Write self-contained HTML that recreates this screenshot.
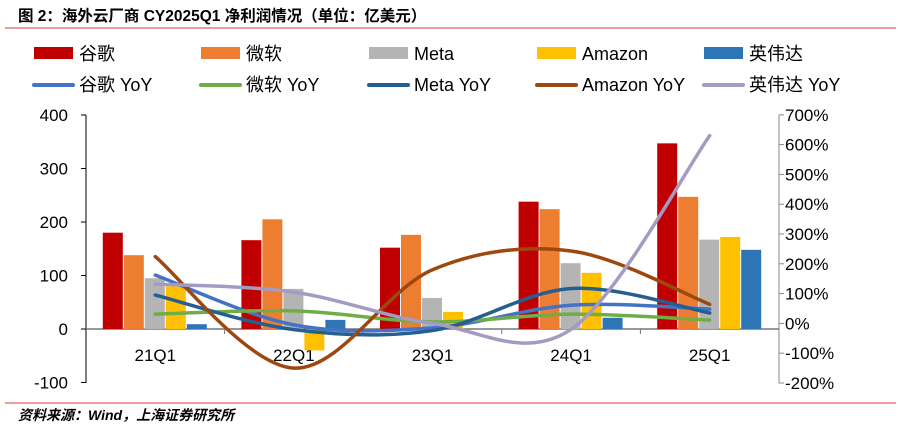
<!DOCTYPE html>
<html><head><meta charset="utf-8"><style>
body{margin:0;background:#fff;}
svg text{font-family:"Liberation Sans","Noto Sans CJK SC",sans-serif;}
</style></head><body>
<svg width="901" height="431" xmlns="http://www.w3.org/2000/svg">
<text x="18" y="21" font-size="15.5" font-weight="bold" fill="#000">图 2：海外云厂商 CY2025Q1 净利润情况（单位：亿美元）</text>
<line x1="5" y1="28" x2="896" y2="28" stroke="#e06060" stroke-width="1.2"/>
<g id="legend"></g>
<g id="axes"></g>
<g id="bars"></g>
<g id="lines"></g>
<line x1="5" y1="403" x2="896" y2="403" stroke="#e06060" stroke-width="1.2"/>
<text x="18" y="420" font-size="14" font-style="italic" font-weight="bold" fill="#000">资料来源：Wind，上海证券研究所</text>
</svg>
<script>
const categories=["21Q1","22Q1","23Q1","24Q1","25Q1"];
const barNames=["谷歌","微软","Meta","Amazon","英伟达"];
const google=[180,166,152,238,347];
const microsoft=[138,205,176,224,247];
const meta=[95,75,58,123,167];
const amazon=[80,-40,32,105,172];
const nvidia=[9,17,0,21,148];
const lineNames=["谷歌 YoY","微软 YoY","Meta YoY","Amazon YoY","英伟达 YoY"];
const googleYoY=[162,-5,-15,61,48];
const microsoftYoY=[31,42,5,31,11];
const metaYoY=[95,-21,-24,117,35];
const amazonYoY=[224,-150,180,243,64];
const nvidiaYoY=[132,105,0,-20,630];
const leftTicks=[400,300,200,100,0,-100];
const rightTicks=[700,600,500,400,300,200,100,0,-100,-200];

const NS="http://www.w3.org/2000/svg";
const barColors=["#c00000","#ed7d31","#b4b4b4","#ffc000","#2e75b6"];
const lineColors=["#4472c4","#70ad47","#255e91","#9e480e","#a49bc2"];
const X0=86,X1=779,yL=v=>329-v*0.535,yR=v=>323.4-v*0.298;
const cw=(X1-X0)/categories.length, cx=i=>X0+cw*(i+0.5);
function mk(t,a,p){const e=document.createElementNS(NS,t);for(const k in a)e.setAttribute(k,a[k]);p.appendChild(e);return e;}
const axes=document.getElementById('axes');
let e=mk('line',{x1:X0,y1:115,x2:X0,y2:383,stroke:'#000'},axes);


e=mk('line',{x1:X1,y1:115,x2:X1,y2:383,stroke:'#888'},axes);


e=mk('line',{x1:X0,y1:yL(0),x2:X1,y2:yL(0),stroke:'#777','stroke-width':1.5},axes);


leftTicks.forEach(v=>{
 mk('line',{x1:X0-5,y1:yL(v),x2:X0,y2:yL(v),stroke:'#000'},axes);
 e=mk('text',{x:68,y:yL(v)+6,'font-size':17,'text-anchor':'end'},axes);e.textContent=v;
 
 
});
rightTicks.forEach(v=>{
 mk('line',{x1:X1,y1:yR(v),x2:X1+5,y2:yR(v),stroke:'#888'},axes);
 e=mk('text',{x:785,y:yR(v)+6,'font-size':17},axes);e.textContent=v+'%';
 
 
});
categories.forEach((c,i)=>{
 if(i>0)mk('line',{x1:X0+cw*i,y1:yL(0),x2:X0+cw*i,y2:yL(0)+5,stroke:'#777'},axes);
 e=mk('text',{x:cx(i),y:361,'font-size':17,'text-anchor':'middle'},axes);e.textContent=c;
 
 
});
const barSeries=[google,microsoft,meta,amazon,nvidia];
const bars=document.getElementById('bars');const bw=21;
barSeries.forEach((s,j)=>s.forEach((v,i)=>{
 const x=cx(i)-bw*2.5+j*bw;const y=Math.min(yL(v),yL(0));
 e=mk('rect',{x:x,y:y,width:bw-1,height:Math.abs(yL(v)-yL(0)),fill:barColors[j]},bars);
 
 
}));
const lineSeries=[googleYoY,microsoftYoY,metaYoY,amazonYoY,nvidiaYoY];
const lines=document.getElementById('lines');
lineSeries.forEach((s,j)=>{
 const p=s.map((v,i)=>[cx(i),yR(v)]);
 let d='M'+p[0][0]+','+p[0][1];
 for(let i=0;i<p.length-1;i++){
  const p0=p[Math.max(i-1,0)],p1=p[i],p2=p[i+1],p3=p[Math.min(i+2,p.length-1)];
  const t=6;
  d+=' C'+(p1[0]+(p2[0]-p0[0])/t)+','+(p1[1]+(p2[1]-p0[1])/t)+' '+(p2[0]-(p3[0]-p1[0])/t)+','+(p2[1]-(p3[1]-p1[1])/t)+' '+p2[0]+','+p2[1];
 }
 e=mk('path',{d:d,fill:'none',stroke:lineColors[j],'stroke-width':3.5,'stroke-linecap':'round'},lines);
 
 
});
const lg=document.getElementById('legend');
const lx=[34,201,369,537,704];
barNames.forEach((n,j)=>{
 e=mk('rect',{x:lx[j],y:47,width:39,height:12,fill:barColors[j]},lg);
 
 
 e=mk('text',{x:lx[j]+45,y:60,'font-size':18},lg);e.textContent=n;
 
 
});
lineNames.forEach((n,j)=>{
 e=mk('line',{x1:lx[j],y1:85,x2:lx[j]+39,y2:85,stroke:lineColors[j],'stroke-width':4,'stroke-linecap':'round'},lg);
 
 
 e=mk('text',{x:lx[j]+45,y:91,'font-size':18},lg);e.textContent=n;
 
 
});
</script>
</body></html>
